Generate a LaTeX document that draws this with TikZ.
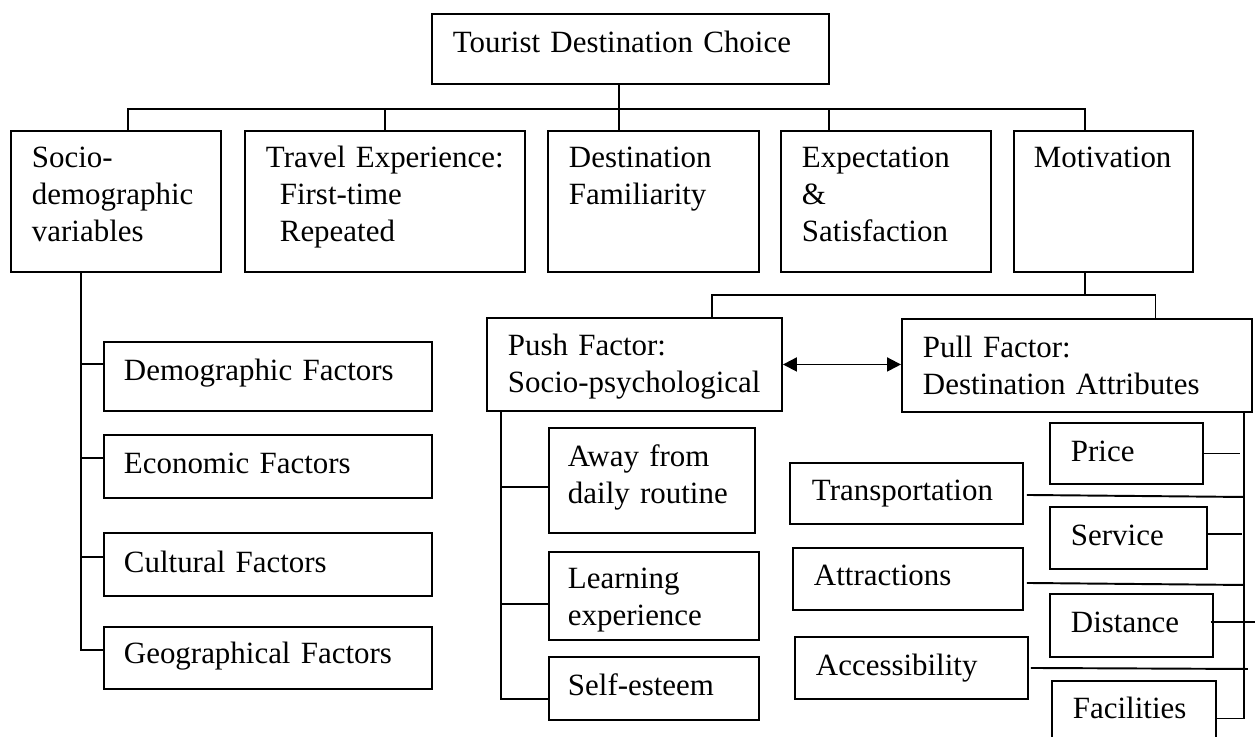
\documentclass[tikz,border=0pt]{standalone}
\usepackage{fontspec}
\setmainfont{Liberation Serif}
\usepackage{tikz}
\usetikzlibrary{arrows.meta}

\tikzset{
  box/.style={draw, anchor=north west, inner xsep=0.42cm, inner ysep=0pt, align=left,
    font=\fontsize{17.6pt}{20.8pt}\selectfont},
  rowbox/.style={box, text height=0.74cm, text depth=2.08cm}
}

\begin{document}
\begin{tikzpicture}[line width=1.1pt, >={Triangle[length=0.28cm,width=0.28cm]}]
              \useasboundingbox (0,0) rectangle (25.12,-14.72);
              \clip (0,0) rectangle (25.12,-14.72);
              \node[box, text width=7.10cm, text height=0.78cm, text depth=0.62cm] (choice) at (8.62,-0.26) {Tourist Destination Choice};
              \node[rowbox, text width=3.36cm] (socio) at (0.20,-2.60) {Socio-\\demographic\\variables};
              \node[rowbox, text width=4.76cm] (travel) at (4.88,-2.60) {Travel Experience:\\\hspace*{0.45em}First-time\\\hspace*{0.45em}Repeated};
              \node[rowbox, text width=3.38cm] (famil) at (10.94,-2.60) {Destination\\Familiarity};
              \node[rowbox, text width=3.36cm] (expect) at (15.60,-2.60) {Expectation\\\&\\Satisfaction};
              \node[rowbox, inner xsep=0.40cm, text width=2.78cm] (motiv) at (20.26,-2.60) {Motivation};
              \node[box, text width=5.06cm, text height=0.76cm, text depth=1.10cm] (push) at (9.72,-6.34) {Push Factor:\\Socio-psychological};
              \node[box, text width=6.16cm, text height=0.78cm, text depth=1.08cm] (pull) at (18.02,-6.36) {Pull Factor:\\Destination Attributes};
              \node[box, inner xsep=0.40cm, text width=5.76cm, text height=0.78cm, text depth=0.60cm] (demo) at (2.06,-6.82) {Demographic Factors};
              \node[box, inner xsep=0.40cm, text width=5.76cm, text height=0.78cm, text depth=0.48cm] (econ) at (2.06,-8.68) {Economic Factors};
              \node[box, inner xsep=0.40cm, text width=5.76cm, text height=0.80cm, text depth=0.46cm] (cult) at (2.06,-10.64) {Cultural Factors};
              \node[box, inner xsep=0.40cm, text width=5.76cm, text height=0.74cm, text depth=0.50cm] (geo) at (2.06,-12.52) {Geographical Factors};
              \node[box, inner xsep=0.38cm, text width=3.36cm, text height=0.78cm, text depth=1.32cm] (away) at (10.96,-8.54) {Away from\\daily routine};
              \node[box, inner xsep=0.38cm, text width=3.44cm, text height=0.74cm, text depth=1.02cm] (learn) at (10.96,-11.02) {Learning\\experience};
              \node[box, inner xsep=0.38cm, text width=3.44cm, text height=0.78cm, text depth=0.48cm] (self) at (10.96,-13.12) {Self-esteem};
              \node[box, text width=2.22cm, text height=0.78cm, text depth=0.44cm] (price) at (20.98,-8.44) {Price};
              \node[box, inner xsep=0.44cm, text width=3.78cm, text height=0.76cm, text depth=0.46cm] (transp) at (15.78,-9.24) {Transportation};
              \node[box, text width=2.30cm, text height=0.78cm, text depth=0.46cm] (service) at (20.98,-10.12) {Service};
              \node[box, text width=3.76cm, text height=0.76cm, text depth=0.48cm] (attract) at (15.84,-10.94) {Attractions};
              \node[box, text width=2.42cm, text height=0.78cm, text depth=0.48cm] (dist) at (20.98,-11.86) {Distance};
              \node[box, text width=3.82cm, text height=0.78cm, text depth=0.46cm] (access) at (15.88,-12.72) {Accessibility};
              \node[box, text width=2.44cm, text height=0.76cm, text depth=0.74cm] (facil) at (21.02,-13.60) {Facilities};

              \coordinate (bus) at ([xshift=-0.23cm,yshift=-0.48cm]choice.south);
              \draw ([xshift=-0.23cm]choice.south) -- (bus |- famil.north);
              \draw ([xshift=0.24cm]socio.north) |- (bus) -| ([xshift=-0.37cm]motiv.north);
              \draw (travel.north) -- (travel.north |- bus);
              \draw ([xshift=-1.14cm]expect.north) -- ([xshift=-1.14cm]expect.north |- bus);

              \coordinate (bus2) at ([xshift=-0.37cm,yshift=-0.44cm]motiv.south);
              \draw ([xshift=-0.37cm]motiv.south) -- (bus2);
              \draw ([xshift=1.55cm]push.north) |- (bus2) -| ([xshift=1.57cm]pull.north);
              \draw[<->] (push.east) -- (push.east -| pull.west);

              \coordinate (sociobus) at ([xshift=-0.70cm]socio.south);
              \foreach \n/\s in {demo/0.25, econ/0.17, cult/0.15, geo/0.16}
                \draw (sociobus) |- ([yshift=\s cm]\n.west);

              \coordinate (pushbus) at ([xshift=0.30cm]push.south west);
              \foreach \n/\s in {away/-0.13, learn/-0.16, self/-0.21}
                \draw (pushbus) |- ([yshift=\s cm]\n.west);

              \coordinate (pullbus) at ([xshift=-0.18cm]pull.south east);
              \draw (pullbus) |- (facil.east);
              \draw (price.east) -- ([xshift=-0.08cm]pullbus |- price.east);
              \draw ([xshift=0.06cm,yshift=-0.03cm]transp.east) -- ([yshift=-0.07cm]pullbus |- transp.east);
              \draw ([yshift=0.08cm]service.east) -- ([xshift=-0.04cm,yshift=0.08cm]pullbus |- service.east);
              \draw ([xshift=0.06cm,yshift=-0.08cm]attract.east) -- ([yshift=-0.12cm]pullbus |- attract.east);
              \draw ([xshift=-0.06cm,yshift=0.07cm]dist.east) -- ([xshift=0.22cm,yshift=0.07cm]pullbus |- dist.east);
              \draw ([xshift=0.04cm]access.east) -- ([xshift=0.08cm,yshift=-0.02cm]pullbus |- access.east);
            \end{tikzpicture}
\end{document}
